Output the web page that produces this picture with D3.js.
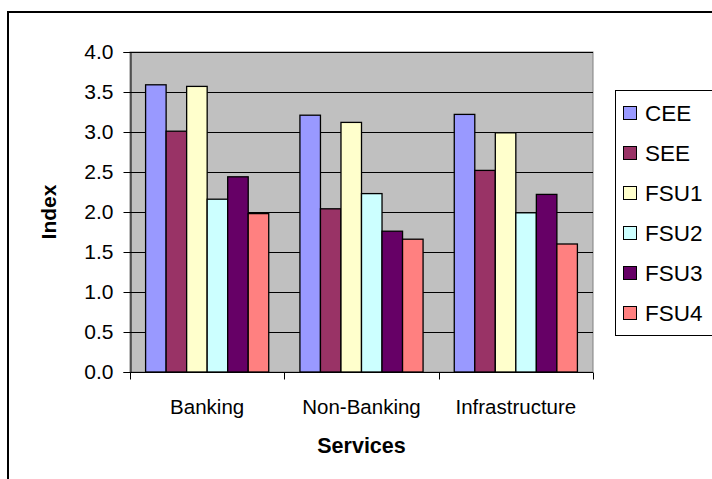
<!DOCTYPE html>
<html>
<head>
<meta charset="utf-8">
<script src="https://cdn.jsdelivr.net/npm/d3@7/dist/d3.min.js"></script>
<style>
  html, body { margin: 0; padding: 0; background: #fff; }
  svg { display: block; font-family: Arial, "Liberation Sans", sans-serif; }
</style>
</head>
<body>
<svg id="chart" width="712" height="479"></svg>
<script>
// Service categories and regional groups
const categories = ["Banking", "Non-Banking", "Infrastructure"];
const seriesNames = ["CEE", "SEE", "FSU1", "FSU2", "FSU3", "FSU4"];
const seriesColors = ["#9999FF", "#993366", "#FFFFCC", "#CCFFFF", "#660066", "#FF8080"];

// Index values per series, ordered as in categories
const CEE  = [3.59, 3.21, 3.22];
const SEE  = [3.01, 2.04, 2.52];
const FSU1 = [3.57, 3.12, 2.99];
const FSU2 = [2.16, 2.23, 1.99];
const FSU3 = [2.44, 1.76, 2.22];
const FSU4 = [1.98, 1.66, 1.60];
const seriesValues = [CEE, SEE, FSU1, FSU2, FSU3, FSU4];

const yTicks = [0, 0.5, 1.0, 1.5, 2.0, 2.5, 3.0, 3.5, 4.0];

const svg = d3.select("#chart");

// Chart area frame
svg.append("rect")
  .attr("x", 8).attr("y", 12)
  .attr("width", 720).attr("height", 480)
  .attr("fill", "#fff").attr("stroke", "#000").attr("stroke-width", 2);

const plot = { left: 130, top: 52, right: 593, bottom: 372 };

const x0 = d3.scaleBand()
  .domain(categories)
  .range([plot.left, plot.right])
  .paddingInner(0).paddingOuter(0);

// Bars within a cluster touch; the gap between clusters is ~1.5 bar widths
const x1 = d3.scaleBand()
  .domain(seriesNames)
  .range([0, x0.bandwidth()])
  .paddingInner(0)
  .paddingOuter(0.76);

const y = d3.scaleLinear().domain([0, 4]).range([plot.bottom, plot.top]);

// Plot background
svg.append("rect")
  .attr("x", plot.left).attr("y", plot.top)
  .attr("width", plot.right - plot.left).attr("height", plot.bottom - plot.top)
  .attr("fill", "#C0C0C0").attr("stroke", "#808080").attr("stroke-width", 1);

// Gridlines
svg.append("g")
  .selectAll("line")
  .data(yTicks.filter(t => t > 0))
  .join("line")
  .attr("x1", plot.left).attr("x2", plot.right)
  .attr("y1", d => Math.round(y(d)) + 0.5).attr("y2", d => Math.round(y(d)) + 0.5)
  .attr("stroke", "#000").attr("stroke-width", 1.2);

// Bars
const groups = svg.append("g")
  .selectAll("g")
  .data(categories)
  .join("g")
  .attr("transform", d => `translate(${x0(d)},0)`);

groups.selectAll("rect")
  .data((c, ci) => seriesNames.map((s, si) => ({ s, si, v: seriesValues[si][ci] })))
  .join("rect")
  .attr("x", d => x1(d.s))
  .attr("y", d => y(d.v))
  .attr("width", x1.bandwidth())
  .attr("height", d => y(0) - y(d.v))
  .attr("fill", d => seriesColors[d.si])
  .attr("stroke", "#000").attr("stroke-width", 1.3);

// Y axis
const yAxis = svg.append("g")
  .attr("transform", `translate(${plot.left + 0.5},0)`)
  .call(d3.axisLeft(y).tickValues(yTicks).tickFormat(d3.format(".1f")).tickSize(7).tickPadding(10));
yAxis.select(".domain").attr("stroke", "#000");
yAxis.selectAll("text").attr("font-size", 21).attr("fill", "#000")
  .attr("font-family", "Arial, 'Liberation Sans', sans-serif");

// X axis with ticks at category boundaries
const xAxisG = svg.append("g").attr("transform", `translate(0,${plot.bottom + 0.5})`);
xAxisG.append("line")
  .attr("x1", plot.left).attr("x2", plot.right)
  .attr("stroke", "#000");
const bounds = categories.map(c => x0(c)).concat([plot.right]);
xAxisG.selectAll(".tk")
  .data(bounds)
  .join("line")
  .attr("class", "tk")
  .attr("x1", d => Math.round(d) + 0.5).attr("x2", d => Math.round(d) + 0.5)
  .attr("y1", 0).attr("y2", 7)
  .attr("stroke", "#000");
xAxisG.selectAll(".cat")
  .data(categories)
  .join("text")
  .attr("class", "cat")
  .attr("x", d => x0(d) + x0.bandwidth() / 2)
  .attr("y", 41)
  .attr("text-anchor", "middle")
  .attr("font-size", 20.5)
  .text(d => d);

// Axis titles
svg.append("text")
  .attr("x", (plot.left + plot.right) / 2)
  .attr("y", 453)
  .attr("text-anchor", "middle")
  .attr("font-size", 21.5).attr("font-weight", "bold")
  .text("Services");

svg.append("text")
  .attr("transform", `translate(56,${(plot.top + plot.bottom) / 2}) rotate(-90)`)
  .attr("text-anchor", "middle")
  .attr("font-size", 21).attr("font-weight", "bold")
  .text("Index");

// Legend
const legend = svg.append("g");
legend.append("rect")
  .attr("x", 615.5).attr("y", 90.5)
  .attr("width", 120).attr("height", 245)
  .attr("fill", "#fff").attr("stroke", "#000");
const items = legend.selectAll("g.item")
  .data(seriesNames)
  .join("g")
  .attr("class", "item")
  .attr("transform", (d, i) => `translate(0,${113 + i * 40})`);
items.append("rect")
  .attr("x", 623.5).attr("y", -6.5)
  .attr("width", 13).attr("height", 13)
  .attr("fill", (d, i) => seriesColors[i])
  .attr("stroke", "#000");
items.append("text")
  .attr("x", 645)
  .attr("y", 0)
  .attr("dy", "0.36em")
  .attr("font-size", 22.5)
  .text(d => d);
</script>
</body>
</html>
